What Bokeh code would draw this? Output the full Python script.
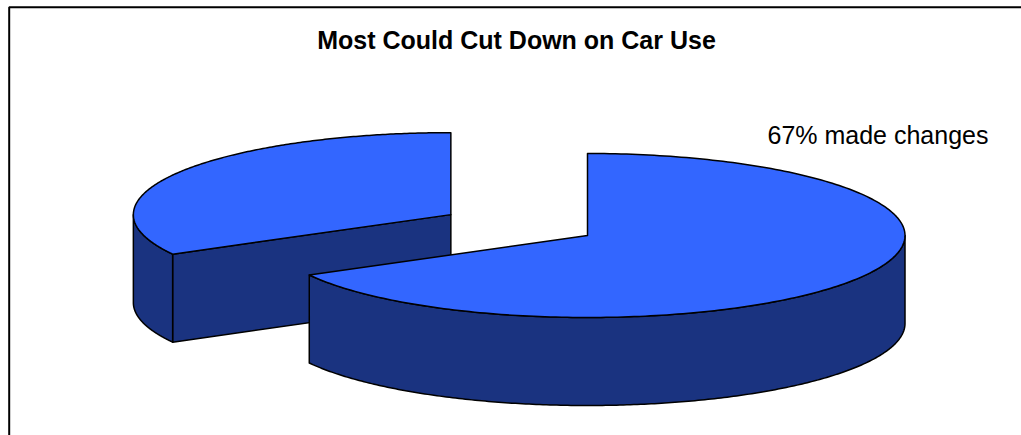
import numpy as np
from bokeh.plotting import figure
from bokeh.models import Range1d
from bokeh.core.properties import value
from bokeh.embed import file_html
from bokeh.resources import INLINE

# ---- data ----
title_text = "Most Could Cut Down on Car Use"
categories = ["made changes", "made no changes"]
values = [67, 33]
exploded = [False, True]
show_label = [True, False]

# ---- style / layout ----
W, H = 1021, 435
TOP_COLOR = "#3366FF"
SIDE_COLOR = "#1A3380"
CX, CY = 587.0, 235.0        # centre of the top face (screen px, y down)
RX, RY = 317.5, 82.0         # ellipse radii of the tilted pie
DEPTH = 88.0                 # thickness of the pie
EXPLODE = 0.5                # fraction of radius for exploded slices
N = 240
FONT = "Liberation Sans"

p = figure(width=W, height=H, output_backend="svg", toolbar_location=None,
           x_range=Range1d(0, W), y_range=Range1d(H, 0),
           x_axis_location=None, y_axis_location=None,
           min_border=0, outline_line_color=None, outline_line_alpha=0)
p.grid.visible = False
p.background_fill_color = "white"
p.border_fill_color = "white"

# chart frame: only its left and top edges fall inside the picture
p.quad(left=[8.7], right=[W + 60], top=[6.7], bottom=[H + 60],
       fill_color=None, line_color="black", line_width=2)


def pt(cx, cy, a, dz=0.0):
    return cx + RX * np.cos(a), cy - RY * np.sin(a) + dz


total = float(sum(values))
start = np.pi / 2
slices = []
for cat, v, ex, lab in zip(categories, values, exploded, show_label):
    a_hi = start
    a_lo = start - 2 * np.pi * v / total
    start = a_lo
    mid = 0.5 * (a_lo + a_hi)
    ox = EXPLODE * RX * np.cos(mid) if ex else 0.0
    oy = -EXPLODE * RY * np.sin(mid) if ex else 0.0
    slices.append(dict(cat=cat, v=v, a_lo=a_lo, a_hi=a_hi, cx=CX + ox, cy=CY + oy, lab=lab))

# painter's order: back (smaller screen y) first
slices.sort(key=lambda s: s["cy"])

xs, ys, fills = [], [], []
for s in slices:
    cx, cy, a_lo, a_hi = s["cx"], s["cy"], s["a_lo"], s["a_hi"]
    # radial cut faces
    for a, normal in ((a_lo, a_lo - np.pi / 2), (a_hi, a_hi + np.pi / 2)):
        if np.sin(normal) < -1e-6:
            ex_, ey_ = pt(cx, cy, a)
            xs.append([cx, ex_, ex_, cx])
            ys.append([cy, ey_, ey_ + DEPTH, cy + DEPTH])
            fills.append(SIDE_COLOR)
    # outer curved wall (front-facing part)
    for k in range(-3, 3):
        lo = max(a_lo, -np.pi + 2 * np.pi * k)
        hi = min(a_hi, 0.0 + 2 * np.pi * k)
        if hi - lo > 1e-6:
            t = np.linspace(lo, hi, N)
            tx, ty = pt(cx, cy, t)
            bx, by = pt(cx, cy, t[::-1], DEPTH)
            xs.append(list(np.concatenate([tx, bx])))
            ys.append(list(np.concatenate([ty, by])))
            fills.append(SIDE_COLOR)
    # top face
    t = np.linspace(a_lo, a_hi, N)
    tx, ty = pt(cx, cy, t)
    xs.append([cx] + list(tx))
    ys.append([cy] + list(ty))
    fills.append(TOP_COLOR)

p.patches(xs=xs, ys=ys, fill_color=fills, line_color="black", line_width=1.5,
          line_join="round")

# title
p.text(x=[516], y=[39.5], text=[title_text], text_font=value(FONT),
       text_font_size="25px", text_font_style="bold", text_align="center",
       text_baseline="alphabetic", text_color="black")

# data label
labels = [f"{s['v']}% {s['cat']}" for s in slices if s["lab"]]
p.text(x=[767] * len(labels), y=[134] * len(labels), text=labels,
       text_font=value(FONT), text_font_size="25px", text_align="left",
       text_baseline="alphabetic", text_color="black")

open("out.html", "w").write(file_html(p, INLINE))
